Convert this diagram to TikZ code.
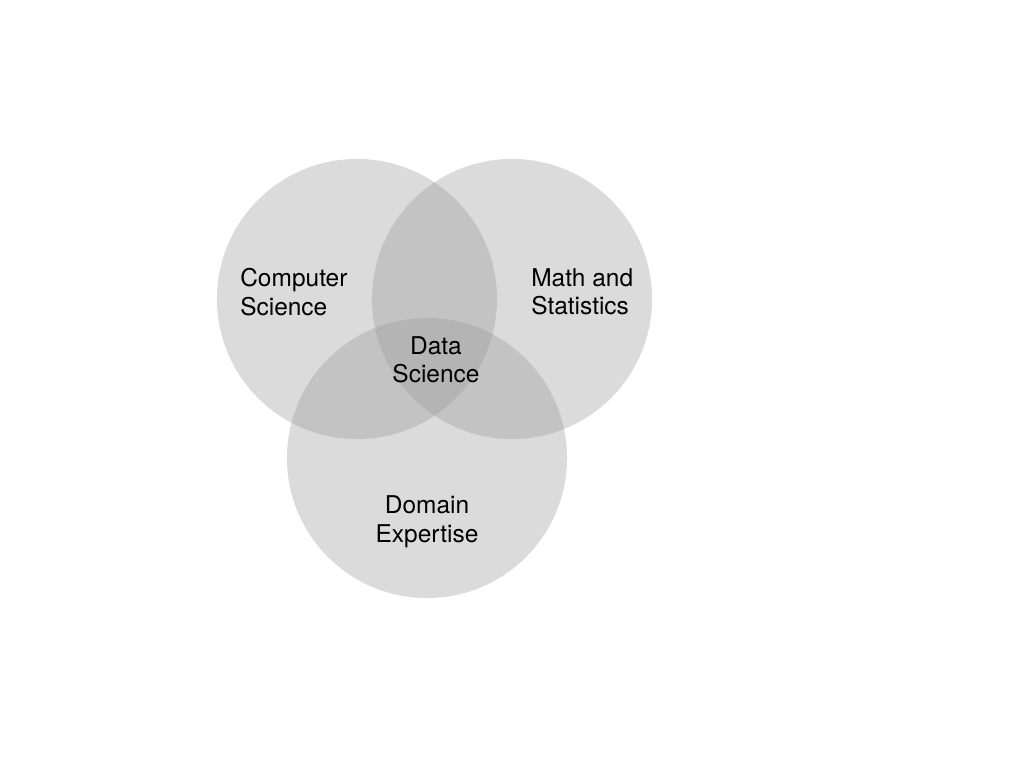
\documentclass[tikz,border=0pt]{standalone}
\usepackage{fontspec}
\setmainfont{TeX Gyre Heros}
\usetikzlibrary{positioning}

\begin{document}
\begin{tikzpicture}[
  x=0.025cm, y=-0.025cm,
  font=\fontsize{17.4pt}{20.3pt}\selectfont,
  field/.style={circle, minimum size=7cm, inner sep=0pt, fill=black!40, fill opacity=0.35},
  lbl/.style={inner sep=0pt, text=black},
  sidelbl/.style={lbl, align=left, anchor=west},
  midlbl/.style={lbl, align=center}
]

% page
\useasboundingbox[fill=white] (0,0) rectangle (1024,768);

% the three fields
\node[field] (cs)   at (357,299) {};
\node[field] (math) at (512,299) {};
\node[field] (dom)  at (427,458) {};

% labels
\node[sidelbl] (cslbl)   at (240,292) {Computer\\Science};
\node[sidelbl] (mathlbl) at (531,292) {Math and\\Statistics};
\node[midlbl]  (dslbl)   at (436,360) {Data\\Science};
\node[midlbl]  (domlbl)  at (427,522) {Domain\\Expertise};

\end{tikzpicture}
\end{document}
